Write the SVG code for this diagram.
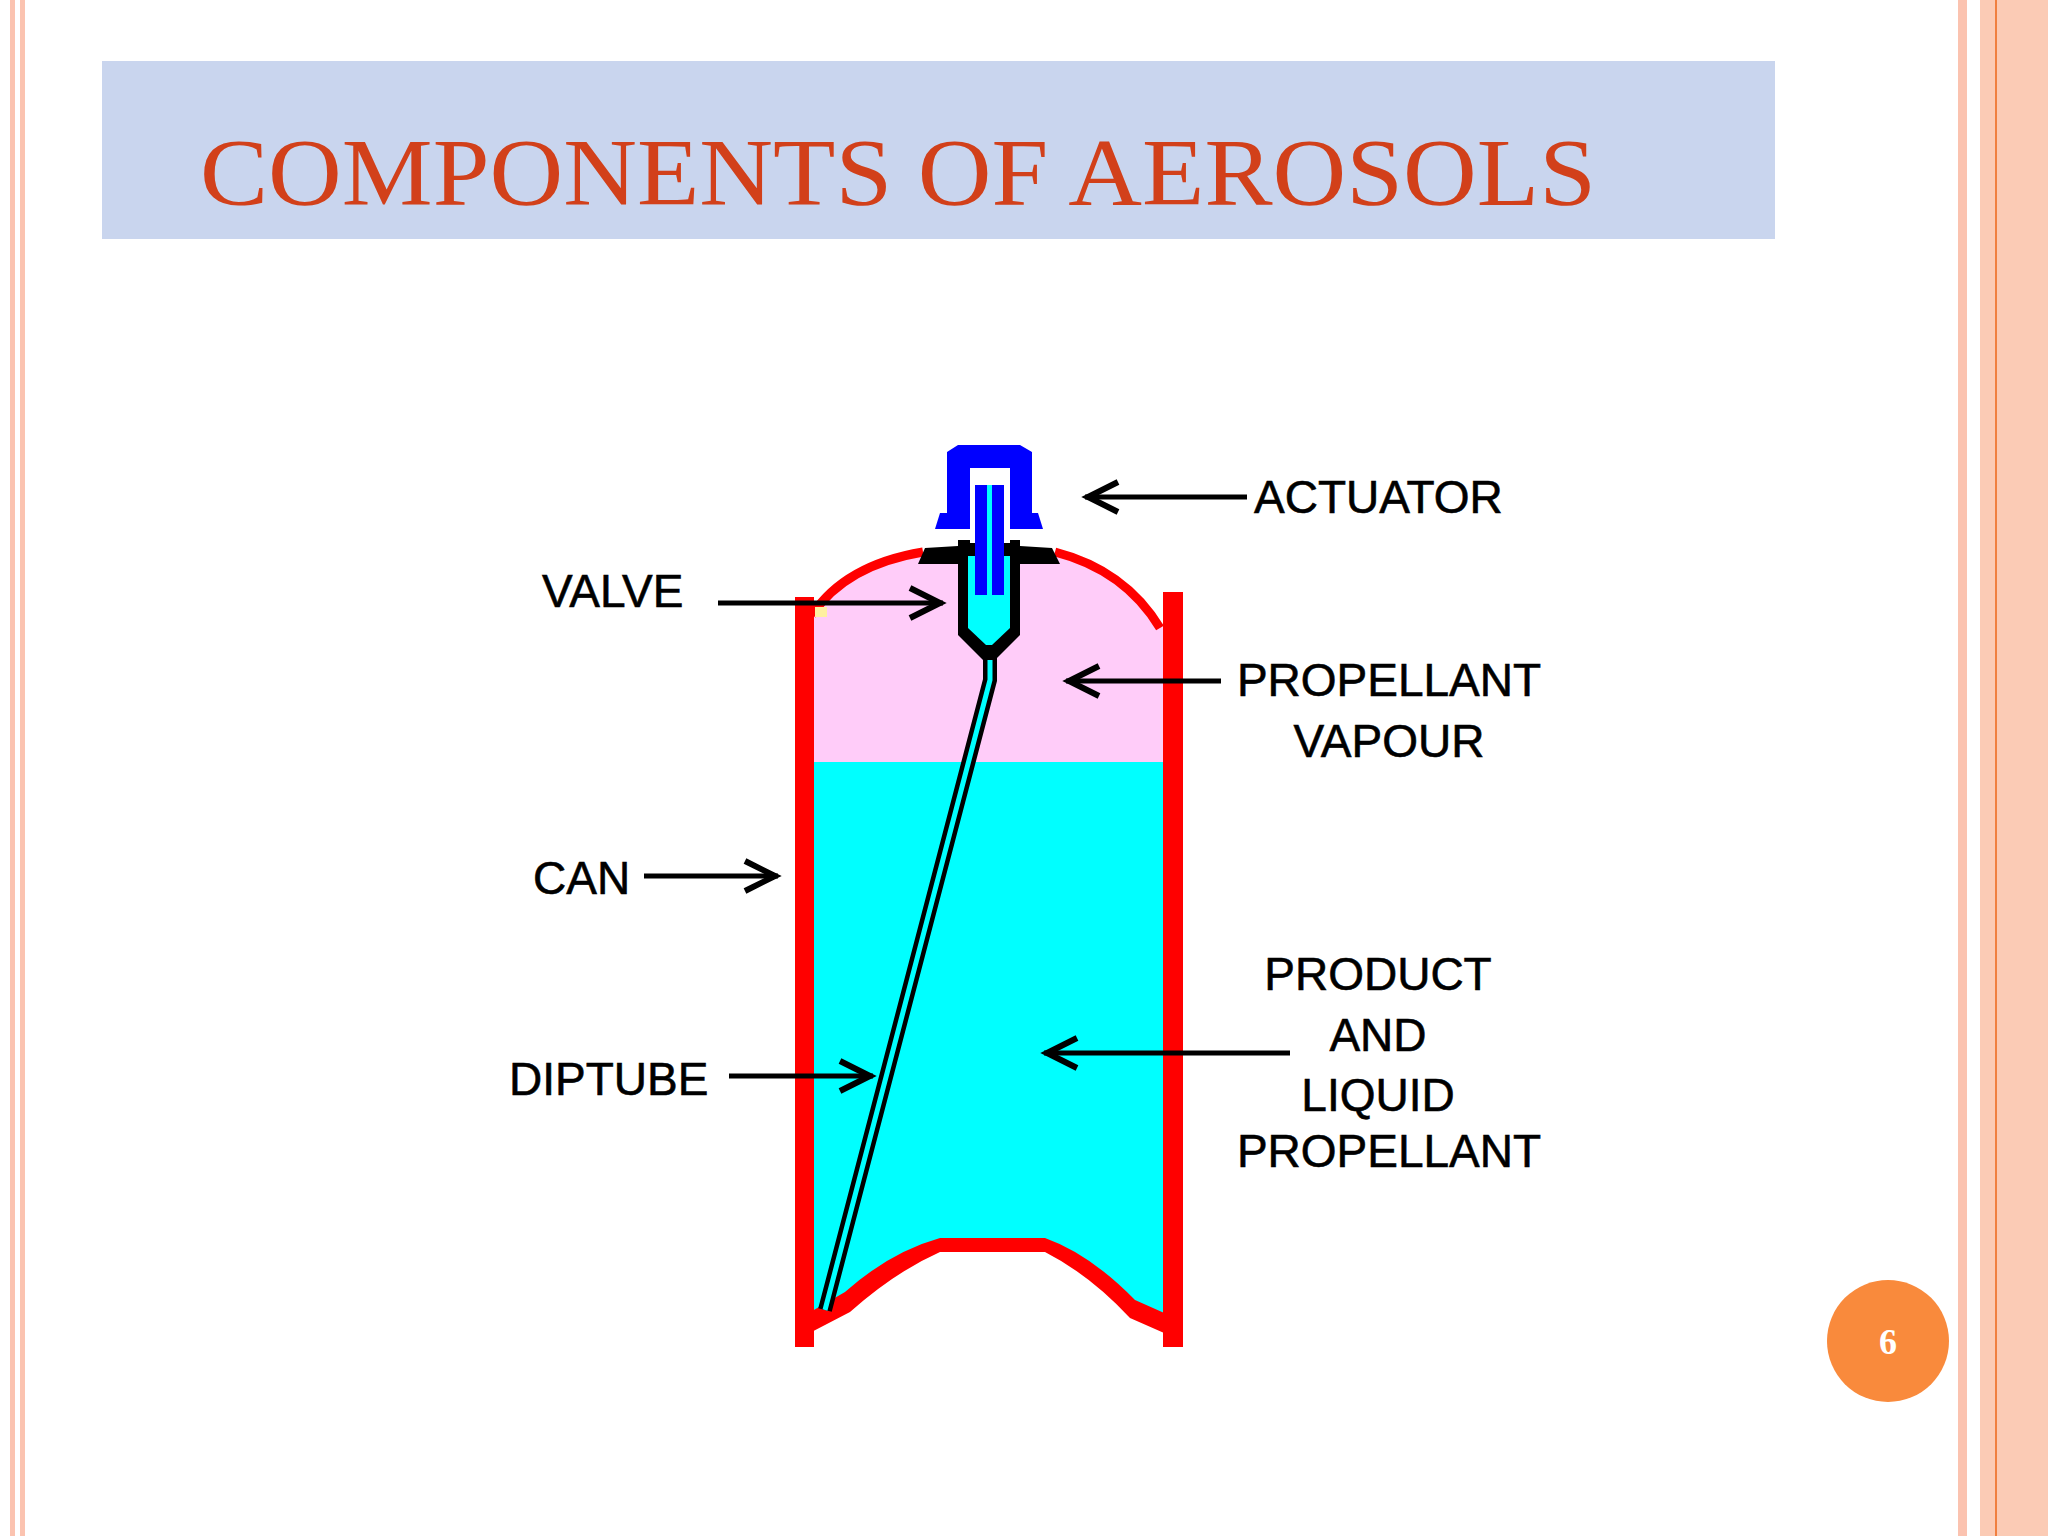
<svg xmlns="http://www.w3.org/2000/svg" width="2048" height="1536" viewBox="0 0 2048 1536">
<defs>
<style>
.lbl{font-family:"Liberation Sans",Arial,sans-serif;font-size:46px;fill:#000;stroke:#000;stroke-width:0.6}
.ln{stroke:#000;stroke-width:5;fill:none}
.hd{stroke:#000;stroke-width:6;fill:none}
</style>
</defs>
<rect width="2048" height="1536" fill="#fff"/>
<rect x="10" y="0" width="5" height="1536" fill="#FBC3B0"/>
<rect x="20" y="0" width="5" height="1536" fill="#FBC3B0"/>
<rect x="1958" y="0" width="9" height="1536" fill="#FBC3B0"/>
<rect x="1980" y="0" width="68" height="1536" fill="#FBCBB5"/>
<rect x="1995" y="0" width="2" height="1536" fill="#F08040"/>
<g id="title">
<rect x="102" y="61" width="1673" height="178" fill="#C9D5EE"/>
<text x="200" y="205" textLength="1396" lengthAdjust="spacingAndGlyphs" font-family="Liberation Serif,'Times New Roman',serif" font-size="96" fill="#D2401A">COMPONENTS OF AEROSOLS</text>
</g>
<g id="can">
<path d="M812,615 Q845,565 923,552 L1055,552 Q1125,570 1163,628 L1163,1330 L1130,1310 Q1080,1260 1045,1243 L940,1243 Q895,1260 850,1300 L812,1320 Z" fill="#FFCCF9"/>
<path d="M812,762 L1163,762 L1163,1330 L1130,1310 Q1080,1260 1045,1243 L940,1243 Q895,1260 850,1300 L812,1320 Z" fill="#00FFFF"/>
<path d="M812,615 Q845,565 923,552 M1055,552 Q1125,570 1160,628" stroke="#F00" stroke-width="9" fill="none"/>
<rect x="795" y="597" width="19" height="750" fill="#F00"/>
<rect x="1163" y="592" width="20" height="755" fill="#F00"/>
<path d="M800,1338 L850,1312 Q895,1272 940,1252 L1045,1252 Q1090,1275 1130,1318 L1180,1340 L1180,1320 L1135,1300 Q1090,1254 1045,1238 L940,1238 Q890,1252 845,1292 L800,1318 Z" fill="#F00"/>
<rect x="815" y="607" width="12" height="10" fill="#FFF0A0"/>
</g>
<g id="diptube">
<path d="M990,655 L990,680 L825,1310" stroke="#000" stroke-width="14" fill="none"/>
<path d="M990,655 L990,680 L825,1310" stroke="#00FFFF" stroke-width="5" fill="none"/>
</g>
<g id="valve">
<path d="M918,564 L925,548 L958,546 L958,540 L1020,540 L1020,546 L1052,548 L1060,564 Z" fill="#000"/>
<path d="M958,540 L1020,540 L1020,635 L995,660 L983,660 L958,635 Z" fill="#000"/>
<path d="M968,556 L1010,556 L1010,628 L992,645 L986,645 L968,628 Z" fill="#00FFFF"/>
</g>
<g id="actuator">
<path d="M958,445 L1020,445 L1032,452 L1032,513 L1038,513 L1043,529 L935,529 L940,513 L947,513 L947,452 Z" fill="#0000FF"/>
<rect x="970" y="468" width="40" height="75" fill="#fff"/>
<rect x="975" y="485" width="29" height="110" fill="#0000FF"/>
<rect x="987" y="485" width="5" height="110" fill="#00FFFF"/>
</g>
<g id="connectors">
<path class="ln" d="M1247,497 L1085,497"/><path class="hd" d="M1118,482 L1088,497 L1118,512"/>
<path class="ln" d="M718,603 L943,603"/><path class="hd" d="M910,588 L940,603 L910,618"/>
<path class="ln" d="M1221,681 L1066,681"/><path class="hd" d="M1099,666 L1069,681 L1099,696"/>
<path class="ln" d="M644,876 L778,876"/><path class="hd" d="M745,861 L775,876 L745,891"/>
<path class="ln" d="M729,1076 L873,1076"/><path class="hd" d="M840,1061 L870,1076 L840,1091"/>
<path class="ln" d="M1290,1053 L1044,1053"/><path class="hd" d="M1077,1038 L1047,1053 L1077,1068"/>
</g>
<g id="labels">
<text class="lbl" x="1254" y="513">ACTUATOR</text>
<text class="lbl" x="542" y="607">VALVE</text>
<text class="lbl" x="1389" y="696" text-anchor="middle">PROPELLANT</text>
<text class="lbl" x="1389" y="757" text-anchor="middle">VAPOUR</text>
<text class="lbl" x="533" y="894">CAN</text>
<text class="lbl" x="509" y="1095">DIPTUBE</text>
<text class="lbl" x="1378" y="990" text-anchor="middle">PRODUCT</text>
<text class="lbl" x="1378" y="1051" text-anchor="middle">AND</text>
<text class="lbl" x="1378" y="1111" text-anchor="middle">LIQUID</text>
<text class="lbl" x="1389" y="1167" text-anchor="middle">PROPELLANT</text>
</g>
<g id="page">
<circle cx="1888" cy="1341" r="61" fill="#F98A3C"/>
<text x="1888" y="1354" text-anchor="middle" font-family="Liberation Serif,serif" font-weight="bold" font-size="36" fill="#fff">6</text>
</g>
</svg>
